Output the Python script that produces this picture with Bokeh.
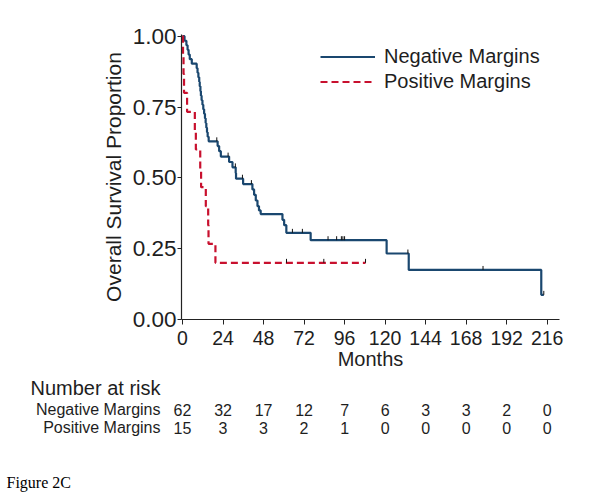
from bokeh.plotting import figure
from bokeh.models import Range1d, FixedTicker, NumeralTickFormatter, Legend, LegendItem
from bokeh.core.properties import value
from bokeh.embed import file_html
from bokeh.resources import INLINE

# ---------------- data ----------------
# Kaplan-Meier steps: Negative Margins
neg_t = [0, 1.2, 2.3, 3.0, 3.6, 4.3, 5.5, 8.4, 8.9, 9.4, 9.9, 10.2, 10.6, 10.9, 11.3,
         11.8, 12.3, 12.8, 13.3, 13.7, 14.1, 14.5, 14.9, 15.5, 20.8, 21.7, 22.7, 27.6,
         29.6, 31.5, 31.7, 35.9, 41.4, 42.4, 43.4, 44.4, 45.3, 46.3, 59.2, 60.2, 61.5,
         75.9, 120.9, 134.0, 212.5, 214.0]
neg_s = [1.0, 0.984, 0.968, 0.952, 0.935, 0.919, 0.903, 0.887, 0.871, 0.855, 0.839,
         0.823, 0.806, 0.790, 0.774, 0.758, 0.742, 0.726, 0.710, 0.694, 0.677, 0.661,
         0.645, 0.629, 0.612, 0.594, 0.575, 0.556, 0.537, 0.517, 0.497, 0.478, 0.459,
         0.440, 0.420, 0.400, 0.385, 0.372, 0.352, 0.333, 0.306, 0.280, 0.233, 0.175,
         0.087, 0.087]
# censoring marks: Negative Margins
neg_ct = [20.3, 27.0, 31.3, 35.5, 40.8, 65.1, 71.0, 86.2, 91.3, 94.1, 95.0, 96.0,
          133.5, 178.0, 214.0]
neg_cs = [0.629, 0.575, 0.537, 0.497, 0.478, 0.306, 0.306, 0.280, 0.280, 0.280,
          0.280, 0.280, 0.233, 0.175, 0.087]

# Kaplan-Meier steps: Positive Margins
pos_t = [0, 0.3, 0.6, 0.9, 2.7, 7.3, 7.9, 10.5, 11.0, 13.8, 15.2, 15.4, 19.5, 108.4]
pos_s = [1.0, 0.933, 0.867, 0.8, 0.733, 0.667, 0.6, 0.533, 0.467, 0.4, 0.333, 0.267,
         0.2, 0.2]
pos_ct = [61.6, 83.7, 108.4]
pos_cs = [0.2, 0.2, 0.2]

# number at risk table
risk_months = [0, 24, 48, 72, 96, 120, 144, 168, 192, 216]
neg_risk = [62, 32, 17, 12, 7, 6, 3, 3, 2, 0]
pos_risk = [15, 3, 3, 2, 1, 0, 0, 0, 0, 0]
y_ticks = [0.0, 0.25, 0.5, 0.75, 1.0]

series_names = ["Negative Margins", "Positive Margins"]

# ---------------- styling ----------------
BLUE = "#1a476f"
RED = "#c8102e"
TXT = "#1e1e1e"
FONT = "Liberation Sans"

W = 600
ML, MR, MT = 181, 41, 34
FH = 288
MB = 50
H1 = MT + FH + MB
H2 = 124
X0, X1 = -0.6, 223.3
Y1 = 1.006

p = figure(width=W, height=H1, output_backend="svg", toolbar_location=None,
           x_range=Range1d(X0, X1), y_range=Range1d(0, Y1),
           min_border_left=ML, min_border_right=MR, min_border_top=MT,
           min_border_bottom=MB)
p.outline_line_color = None
p.grid.visible = False
p.background_fill_color = "white"
p.border_fill_color = "white"

r_neg = p.step(neg_t, neg_s, mode="after", line_color=BLUE, line_width=2.2)
r_pos = p.step(pos_t, pos_s, mode="after", line_color=RED, line_width=2.2,
               line_dash="7 4")

tick_len = 0.014
p.segment(x0=neg_ct, y0=neg_cs, x1=neg_ct, y1=[v + tick_len for v in neg_cs],
          line_color="#111111", line_width=1)
p.segment(x0=pos_ct, y0=pos_cs, x1=pos_ct, y1=[v + tick_len for v in pos_cs],
          line_color="#111111", line_width=1)

# axes
p.xaxis.ticker = FixedTicker(ticks=risk_months)
p.yaxis.ticker = FixedTicker(ticks=y_ticks)
p.yaxis.formatter = NumeralTickFormatter(format="0.00")
for ax in (p.xaxis[0], p.yaxis[0]):
    ax.axis_line_color = "#222222"
    ax.axis_line_width = 1.2
    ax.major_tick_line_color = "#222222"
    ax.minor_tick_line_color = None
    ax.major_tick_in = 0
    ax.major_label_text_color = TXT
    ax.major_label_text_font = FONT
    ax.axis_label_text_font = FONT
    ax.axis_label_text_font_style = "normal"
    ax.axis_label_text_color = TXT

p.xaxis.major_tick_out = 5
p.xaxis.major_label_text_font_size = "19.5px"
p.xaxis.major_label_standoff = 6
p.xaxis.axis_label = "Months"
p.xaxis.axis_label_text_font_size = "20px"
p.xaxis.axis_label_standoff = 0

p.yaxis.major_tick_out = 4
p.yaxis.major_label_text_font_size = "22.5px"
p.yaxis.major_label_standoff = 1
p.yaxis.major_label_orientation = "horizontal"
p.yaxis.axis_label = "Overall Survival Proportion"
p.yaxis.axis_label_text_font_size = "21px"
p.yaxis.axis_label_standoff = 5

legend = Legend(items=[LegendItem(label=series_names[0], renderers=[r_neg]),
                       LegendItem(label=series_names[1], renderers=[r_pos])],
                location=(139, 225), orientation="vertical")
legend.border_line_alpha = 0
legend.background_fill_alpha = 0
legend.padding = 0
legend.margin = 0
legend.spacing = 0
legend.glyph_width = 55
legend.glyph_height = 25
legend.label_height = 25
legend.label_standoff = 9
legend.label_text_font = FONT
legend.label_text_font_size = "20px"
legend.label_text_color = TXT
p.add_layout(legend, "center")

# ---------------- number at risk table (second root, same month scale) ----------
k = (W - ML - MR) / (X1 - X0)          # px per month in the main plot
t = figure(width=W, height=H2, output_backend="svg", toolbar_location=None,
           x_range=Range1d(X0 - ML / k, X0 + (W - ML) / k), y_range=Range1d(H2, 0),
           min_border_left=0, min_border_right=0, min_border_top=0,
           min_border_bottom=0)
t.axis.visible = False
t.grid.visible = False
t.outline_line_color = None
t.border_fill_color = "white"
t.background_fill_color = "white"


def xm(px):      # canvas px -> month units of the table
    return X0 + (px - ML) / k


ROW_NEG, ROW_POS = 37, 55
t.text(x=[xm(30)], y=[15], text=["Number at risk"], text_font=value(FONT),
       text_font_size="20px", text_color=TXT, text_baseline="middle",
       text_align="left")
t.text(x=[xm(160), xm(160)], y=[ROW_NEG, ROW_POS], text=series_names,
       text_font=value(FONT), text_font_size="16px", text_color=TXT,
       text_baseline="middle", text_align="right")
t.text(x=risk_months, y=[ROW_NEG] * len(risk_months), text=[str(v) for v in neg_risk],
       text_font=value(FONT), text_font_size="16px", text_color=TXT,
       text_baseline="middle", text_align="center")
t.text(x=risk_months, y=[ROW_POS] * len(risk_months), text=[str(v) for v in pos_risk],
       text_font=value(FONT), text_font_size="16px", text_color=TXT,
       text_baseline="middle", text_align="center")
t.text(x=[xm(6)], y=[110], text=["Figure 2C"],
       text_font=value("Liberation Serif"), text_font_size="16px",
       text_color="#000000", text_baseline="middle", text_align="left")

open("out.html", "w").write(file_html([p, t], INLINE))
